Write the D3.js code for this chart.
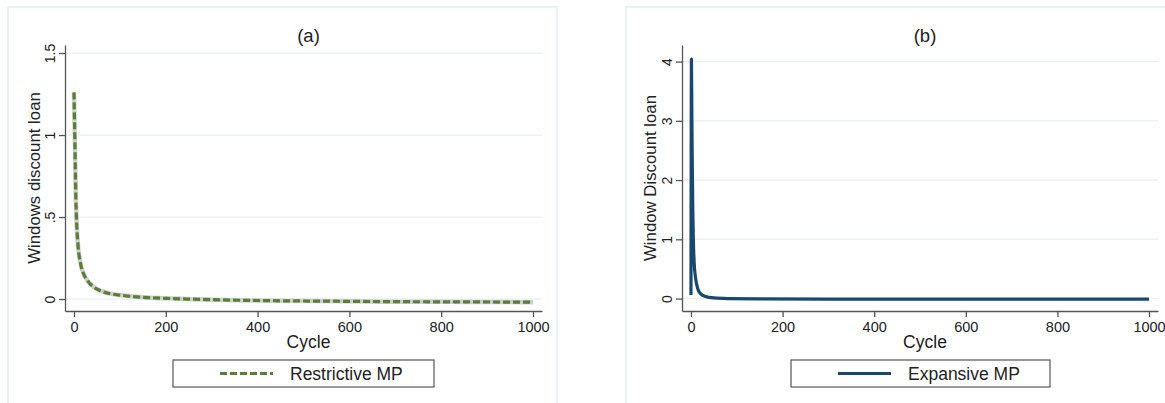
<!DOCTYPE html>
<html lang="en">
<head>
<meta charset="UTF-8">
<title>Discount loan</title>
<script src="https://d3js.org/d3.v7.min.js"></script>
<style>
    body { margin: 0; background: #fff; }
    svg { font-family: "Liberation Sans", Arial, sans-serif; }
    .tick text { fill: #222; }
</style>
</head>
<body>
<div id="chart"></div>
<script>
// panel (a): restrictive MP
var cycA = [0, 2, 4, 6, 9, 14, 20, 30, 42, 60, 80, 100, 130, 160, 200, 250, 300, 400, 500, 600, 700, 800, 900, 1000];
var valA = [1.26, 0.95, 0.62, 0.45, 0.32, 0.22, 0.16, 0.11, 0.075, 0.048, 0.032, 0.024, 0.015, 0.009, 0.004, 0.0, -0.004, -0.009, -0.012, -0.014, -0.016, -0.017, -0.018, -0.019];
// faint band round the start of (a)
var bandCyc = [0, 1, 2, 4, 6, 9, 14, 20];
var bandLo = [1.2, 1.05, 0.92, 0.6, 0.44, 0.31, 0.215, 0.155];
var bandHi = [1.36, 1.15, 0.99, 0.64, 0.46, 0.33, 0.225, 0.165];
// panel (b): expansive MP
var cycB = [0, 1, 2, 3, 4, 5, 7, 10, 15, 20, 30, 50, 80, 150, 300, 500, 700, 1000];
var valB = [0.06, 4.04, 3.0, 2.2, 1.5, 1.05, 0.6, 0.35, 0.16, 0.09, 0.04, 0.01, 0.0, -0.005, -0.008, -0.01, -0.01, -0.01];

var xTicks = [0, 200, 400, 600, 800, 1000];
var yTicksA = [0, 0.5, 1, 1.5];
var yTicksB = [0, 1, 2, 3, 4];
var fmtA = d => d === 0 ? "0" : (d < 1 ? ".5" : String(d));

var svg = d3.select("#chart").append("svg")
    .attr("width", 1165)
    .attr("height", 403);

function panel(o) {
    // outer frame
    svg.append("rect")
        .attr("x", o.frame[0]).attr("y", 7)
        .attr("width", o.frame[1]).attr("height", 420)
        .attr("fill", "none").attr("stroke", "#e4eef0").attr("stroke-width", 1.5);

    var x = d3.scaleLinear().domain([-19.6, 1019.6]).range([o.left, o.right]);
    var y = d3.scaleLinear().domain(o.ydom).range([311, 45]);

    var g = svg.append("g");

    // grid
    g.selectAll(".grid").data(o.yticks).enter().append("line")
        .attr("x1", o.left).attr("x2", o.right)
        .attr("y1", d => y(d)).attr("y2", d => y(d))
        .attr("stroke", "#eaf1f3").attr("stroke-width", 1.2);

    // y axis
    var ya = g.append("g")
        .attr("transform", `translate(${o.left},0)`)
        .call(d3.axisLeft(y).tickValues(o.yticks).tickFormat(o.fmt).tickSize(6).tickPadding(4).tickSizeOuter(0));
    ya.select(".domain").attr("stroke", "#555").attr("stroke-width", 1.3);
    ya.selectAll(".tick line").attr("stroke", "#555").attr("stroke-width", 1.3);
    ya.selectAll(".tick text")
        .attr("font-size", 14)
        .attr("text-anchor", "middle")
        .attr("x", 0).attr("dy", 0)
        .attr("transform", "translate(-10,0) rotate(-90)");

    // x axis
    var xa = g.append("g")
        .attr("transform", "translate(0,311)")
        .call(d3.axisBottom(x).tickValues(xTicks).tickFormat(d3.format("d")).tickSize(6).tickPadding(5).tickSizeOuter(0));
    xa.select(".domain").attr("stroke", "#555").attr("stroke-width", 1.3);
    xa.selectAll(".tick line").attr("stroke", "#555").attr("stroke-width", 1.3);
    xa.selectAll(".tick text").attr("font-size", 14.5);

    // titles
    var mid = (o.left + o.right) / 2 + 5;
    svg.append("text").attr("x", mid).attr("y", 42)
        .attr("text-anchor", "middle").attr("font-size", 18.5).attr("fill", "#222").text(o.title);
    svg.append("text").attr("x", mid).attr("y", 348)
        .attr("text-anchor", "middle").attr("font-size", 17.5).attr("fill", "#222").text("Cycle");
    svg.append("text")
        .attr("transform", `translate(${o.ylabX},178) rotate(-90)`)
        .attr("text-anchor", "middle").attr("font-size", 16.8).attr("fill", "#222").text(o.ylab);

    // legend
    svg.append("rect")
        .attr("x", o.leg[0]).attr("y", 360)
        .attr("width", o.leg[1]).attr("height", 27)
        .attr("fill", "#fff").attr("stroke", "#555").attr("stroke-width", 1.2);
    svg.append("line")
        .attr("x1", o.leg[0] + 47).attr("x2", o.leg[0] + 100)
        .attr("y1", 373.5).attr("y2", 373.5)
        .attr("stroke", o.color).attr("stroke-width", 3.2)
        .attr("stroke-dasharray", o.dash || null);
    svg.append("text").attr("x", o.leg[0] + 117).attr("y", 380)
        .attr("font-size", 17.5).attr("fill", "#222").text(o.legText);

    return { g: g, x: x, y: y };
}

var a = panel({
    frame: [8, 549], left: 65, right: 542, ydom: [-0.073, 1.549],
    yticks: yTicksA, fmt: fmtA, title: "(a)", ylab: "Windows discount loan", ylabX: 40,
    leg: [173, 261], legText: "Restrictive MP", color: "#5a7d38", dash: "7,3"
});

var b = panel({
    frame: [626, 545], left: 682, right: 1158, ydom: [-0.21, 4.28],
    yticks: yTicksB, fmt: d3.format("d"), title: "(b)", ylab: "Window Discount loan", ylabX: 656,
    leg: [791, 259], legText: "Expansive MP", color: "#1a476f"
});

// (a) band, grey underlay, dashed line
var bandPts = bandCyc.map((c, i) => [c, bandLo[i], bandHi[i]]);
a.g.append("path").datum(bandPts)
    .attr("fill", "#dcdcdc")
    .attr("d", d3.area().x(d => a.x(d[0])).y0(d => a.y(d[1])).y1(d => a.y(d[2])).curve(d3.curveMonotoneX));

var ptsA = cycA.map((c, i) => [c, valA[i]]);
var lineA = d3.line().x(d => a.x(d[0])).y(d => a.y(d[1])).curve(d3.curveMonotoneX);
a.g.append("path").datum(ptsA)
    .attr("fill", "none").attr("stroke", "#cfcfcf").attr("stroke-width", 4.5)
    .attr("d", lineA);
a.g.append("path").datum(ptsA)
    .attr("fill", "none").attr("stroke", "#5a7d38").attr("stroke-width", 3.2)
    .attr("stroke-dasharray", "7,3")
    .attr("d", lineA);

// (b) solid line
var ptsB = cycB.map((c, i) => [c, valB[i]]);
b.g.append("path").datum(ptsB)
    .attr("fill", "none").attr("stroke", "#1a476f").attr("stroke-width", 3.2)
    .attr("stroke-linejoin", "round")
    .attr("d", d3.line().x(d => b.x(d[0])).y(d => b.y(d[1])).curve(d3.curveMonotoneX));
</script>
</body>
</html>
